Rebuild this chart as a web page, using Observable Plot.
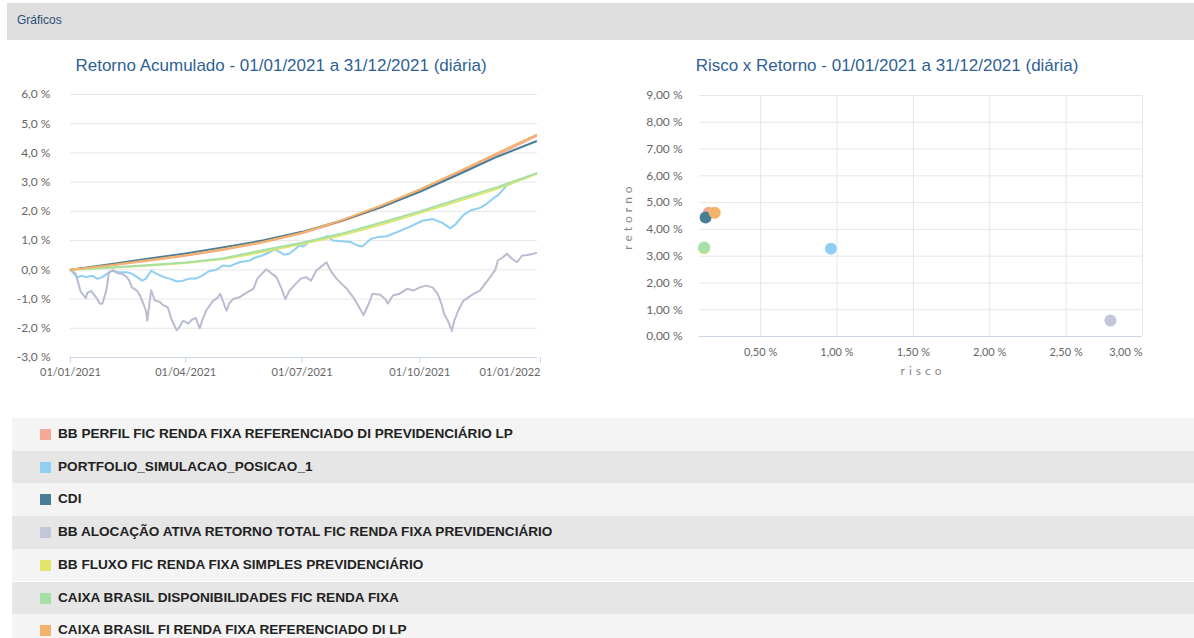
<!DOCTYPE html>
<html><head><meta charset="utf-8">
<script src="https://cdn.jsdelivr.net/npm/d3@7"></script>
<script src="https://cdn.jsdelivr.net/npm/@observablehq/plot@0.6"></script>
<style>
body{margin:0;background:#fff;overflow:hidden}
#root{position:relative;width:1194px;height:638px;font-family:"Liberation Sans",Arial,sans-serif;overflow:hidden}
.hdr{position:absolute;left:7px;top:3px;width:1187px;height:37px;background:#dedede}
.hdr span{position:absolute;left:10px;top:10px;font-size:12px;color:#2b4e77}
.title{position:absolute;top:56px;font-size:17px;color:#2f5f96;white-space:nowrap;transform:translateX(-50%)}
.plot{position:absolute}
.row{position:absolute;left:12px;width:1182px;height:32.7px}
.sw{position:absolute;left:28px;width:11px;height:11px;top:11px}
.lbl{position:absolute;left:46px;top:0;line-height:32.7px;font-size:13.6px;font-weight:bold;color:#222;white-space:nowrap}
</style></head><body><div id="root"></div><script>
// ---------- data ----------
const seriesNames = [
  "BB PERFIL FIC RENDA FIXA REFERENCIADO DI PREVIDENCIÁRIO LP",
  "PORTFOLIO_SIMULACAO_POSICAO_1",
  "CDI",
  "BB ALOCAÇÃO ATIVA RETORNO TOTAL FIC RENDA FIXA PREVIDENCIÁRIO",
  "BB FLUXO FIC RENDA FIXA SIMPLES PREVIDENCIÁRIO",
  "CAIXA BRASIL DISPONIBILIDADES FIC RENDA FIXA",
  "CAIXA BRASIL FI RENDA FIXA REFERENCIADO DI LP"
];
const seriesColors = ["#f5a895","#8fd0f2","#4a7d96","#c3c6d9","#dfe66b","#a6e0a6","#f4b36a"];
const lineColors   = ["#f5a895","#8fd0f2","#4a7d96","#b9bcd2","#dfe66b","#a6e0a6","#f4b36a"];

const monthDates = ["2021-01-01","2021-02-01","2021-03-01","2021-04-01","2021-05-01","2021-06-01","2021-07-01","2021-08-01","2021-09-01","2021-10-01","2021-11-01","2021-12-01","2021-12-31"];
const bbPerfil   = [0,0.15,0.30,0.48,0.69,0.94,1.25,1.66,2.14,2.70,3.33,3.95,4.58];
const cdi        = [0,0.19,0.37,0.56,0.77,1.01,1.30,1.69,2.15,2.67,3.28,3.88,4.40];
const bbFluxo    = [0,0.07,0.14,0.23,0.37,0.62,0.88,1.18,1.55,1.94,2.36,2.78,3.28];
const caixaDisp  = [0,0.08,0.16,0.25,0.40,0.68,0.93,1.24,1.62,2.00,2.43,2.84,3.30];
const caixaRefDI = [0,0.16,0.32,0.50,0.71,0.96,1.27,1.70,2.20,2.75,3.38,4.00,4.62];

const portfolioDates = ["2021-01-01","2021-01-05","2021-01-07","2021-01-10","2021-01-13","2021-01-18","2021-01-22","2021-01-26","2021-01-31","2021-02-03","2021-02-07","2021-02-14","2021-02-18","2021-02-22","2021-02-26","2021-03-01","2021-03-05","2021-03-09","2021-03-15","2021-03-20","2021-03-25","2021-03-30","2021-04-04","2021-04-09","2021-04-14","2021-04-19","2021-04-25","2021-04-30","2021-05-05","2021-05-13","2021-05-21","2021-05-26","2021-05-31","2021-06-03","2021-06-10","2021-06-17","2021-06-21","2021-06-26","2021-06-29","2021-07-02","2021-07-07","2021-07-12","2021-07-21","2021-07-25","2021-08-01","2021-08-08","2021-08-13","2021-08-17","2021-08-24","2021-08-29","2021-09-05","2021-09-12","2021-09-23","2021-10-03","2021-10-11","2021-10-19","2021-10-25","2021-10-29","2021-11-04","2021-11-10","2021-11-17","2021-11-22","2021-11-29","2021-12-01","2021-12-08","2021-12-15","2021-12-22","2021-12-28","2021-12-31"];
const portfolioValues = [0,-0.2,-0.25,-0.2,-0.25,-0.2,-0.31,-0.25,-0.08,-0.02,-0.08,-0.08,-0.13,-0.25,-0.37,-0.3,-0.03,-0.13,-0.25,-0.31,-0.4,-0.37,-0.3,-0.3,-0.2,-0.05,0.0,0.15,0.12,0.26,0.32,0.43,0.49,0.55,0.7,0.52,0.55,0.72,0.84,0.8,0.98,1.0,1.16,1.0,0.98,0.95,0.84,0.8,1.06,1.12,1.15,1.27,1.47,1.68,1.74,1.6,1.42,1.56,1.87,2.04,2.12,2.25,2.5,2.55,2.88,3.02,3.13,3.25,3.3];

const alocDates = ["2021-01-01","2021-01-05","2021-01-09","2021-01-13","2021-01-14","2021-01-17","2021-01-21","2021-01-24","2021-01-26","2021-01-29","2021-01-31","2021-02-03","2021-02-07","2021-02-11","2021-02-14","2021-02-16","2021-02-18","2021-02-22","2021-02-25","2021-03-01","2021-03-02","2021-03-05","2021-03-08","2021-03-12","2021-03-14","2021-03-18","2021-03-21","2021-03-25","2021-03-27","2021-03-30","2021-04-03","2021-04-06","2021-04-09","2021-04-12","2021-04-14","2021-04-17","2021-04-22","2021-04-26","2021-04-28","2021-05-03","2021-05-05","2021-05-08","2021-05-13","2021-05-18","2021-05-24","2021-05-27","2021-06-03","2021-06-07","2021-06-11","2021-06-15","2021-06-18","2021-06-21","2021-06-26","2021-06-30","2021-07-04","2021-07-08","2021-07-12","2021-07-17","2021-07-20","2021-07-24","2021-07-28","2021-08-01","2021-08-05","2021-08-10","2021-08-14","2021-08-18","2021-08-22","2021-08-25","2021-08-31","2021-09-04","2021-09-06","2021-09-10","2021-09-15","2021-09-21","2021-09-26","2021-10-01","2021-10-06","2021-10-11","2021-10-15","2021-10-18","2021-10-20","2021-10-23","2021-10-26","2021-10-28","2021-10-31","2021-11-04","2021-11-08","2021-11-12","2021-11-17","2021-11-21","2021-11-25","2021-11-29","2021-12-01","2021-12-05","2021-12-08","2021-12-12","2021-12-16","2021-12-20","2021-12-23","2021-12-29","2021-12-31"];
const alocValues = [0,-0.13,-0.75,-0.97,-0.8,-0.72,-0.94,-1.16,-1.15,-0.7,-0.1,-0.02,-0.12,-0.15,-0.25,-0.37,-0.6,-0.71,-0.94,-1.4,-1.74,-0.7,-1.05,-1.1,-1.2,-1.28,-1.7,-2.07,-1.97,-1.74,-1.84,-1.7,-1.65,-2.0,-1.72,-1.4,-1.08,-0.95,-0.82,-1.4,-1.15,-1.0,-0.94,-0.8,-0.65,-0.3,0.02,-0.12,-0.25,-0.65,-1.0,-0.72,-0.48,-0.3,-0.25,-0.37,-0.03,0.15,0.26,-0.08,-0.3,-0.48,-0.65,-0.94,-1.23,-1.55,-1.17,-0.82,-0.85,-1.0,-1.15,-0.88,-0.82,-0.65,-0.71,-0.6,-0.54,-0.6,-0.82,-1.17,-1.51,-1.74,-2.09,-1.74,-1.4,-1.06,-0.94,-0.82,-0.71,-0.48,-0.25,0,0.32,0.43,0.55,0.38,0.26,0.49,0.5,0.55,0.58];

// risk x return (in %)
const riskValues   = [0.16, 0.96, 0.14, 2.79, 0.13, 0.13, 0.20];
const returnValues = [4.62, 3.28, 4.44, 0.60, 3.30, 3.32, 4.62];

const retTicks = [-3,-2,-1,0,1,2,3,4,5,6];
const dateTickLabels = ["2021-01-01","2021-04-01","2021-07-01","2021-10-01","2022-01-01"];
const riskTicks = [0.5,1.0,1.5,2.0,2.5,3.0];
const scatterYTicks = [0,1,2,3,4,5,6,7,8,9];

// ---------- build ----------
const parse = d3.utcParse("%Y-%m-%d");
const lineData = [];
function addSeries(i, dates, values){ dates.forEach((d,k)=>lineData.push({series: seriesNames[i], date: parse(d), value: values[k]})); }
addSeries(0, monthDates, bbPerfil);
addSeries(1, portfolioDates, portfolioValues);
addSeries(2, monthDates, cdi);
addSeries(3, alocDates, alocValues);
addSeries(4, monthDates, bbFluxo);
addSeries(5, monthDates, caixaDisp);
addSeries(6, monthDates, caixaRefDI);

const scatterData = seriesNames.map((s,i)=>({series:s, risk: riskValues[i], ret: returnValues[i]}));

const root = document.getElementById("root");
root.insertAdjacentHTML("beforeend", `<div class="hdr"><span>Gráficos</span></div>
<div class="title" style="left:281px">Retorno Acumulado - 01/01/2021 a 31/12/2021 (diária)</div>
<div class="title" style="left:887px">Risco x Retorno - 01/01/2021 a 31/12/2021 (diária)</div>`);

const axisStyle = {fontFamily: "Lato, 'Open Sans', sans-serif", fontSize: "11px", color: "#666", background: "transparent", overflow: "visible"};
const xTicks = dateTickLabels.map(parse);
const fmtDate = d3.utcFormat("%d/%m/%Y");
const fmtPct1 = d => d.toFixed(1).replace(".", ",") + " %";
const fmtPct2 = d => d.toFixed(2).replace(".", ",") + " %";

const left = Plot.plot({
  width: 560, height: 307,
  marginLeft: 70, marginRight: 23, marginTop: 14, marginBottom: 30,
  style: axisStyle,
  color: {domain: seriesNames, range: lineColors},
  x: {type: "utc", domain: [parse("2021-01-01"), parse("2022-01-01")], label: null},
  y: {domain: [-3, 6], label: null},
  marks: [
    Plot.gridY(retTicks.filter(t => t > -3), {stroke: "#e6e6e6", strokeOpacity: 1}),
    Plot.ruleY([-3], {stroke: "#ccd6eb"}),
    Plot.axisY(retTicks, {tickSize: 0, tickPadding: 20, tickFormat: fmtPct1, fill: "#666", fontSize: 12, label: null}),
    Plot.axisX(xTicks.slice(0, -1), {tickSize: 6, tickPadding: 5, stroke: "#ccd6eb", fill: "#666", tickFormat: fmtDate, label: null}),
    Plot.axisX(xTicks.slice(-1), {tickSize: 6, tickPadding: 5, stroke: "#ccd6eb", fill: "#666", tickFormat: fmtDate, textAnchor: "end", dx: 3, label: null}),
    Plot.line(lineData, {x: "date", y: "value", z: "series", stroke: "series", strokeWidth: 2})
  ]
});
left.classList.add("plot");
left.style.left = "0px"; left.style.top = "80px";
root.appendChild(left);

const right = Plot.plot({
  width: 560, height: 306,
  marginLeft: 99, marginRight: 18, marginTop: 15, marginBottom: 50,
  style: axisStyle,
  color: {domain: seriesNames, range: seriesColors},
  x: {domain: [0.1, 3.0], label: null},
  y: {domain: [0, 9], label: null},
  marks: [
    Plot.gridX(riskTicks, {stroke: "#e6e6e6", strokeOpacity: 1}),
    Plot.gridY(scatterYTicks.filter(t => t > 0), {stroke: "#e6e6e6", strokeOpacity: 1}),
    Plot.ruleY([0], {stroke: "#ccd6eb"}),
    Plot.axisY(scatterYTicks, {tickSize: 0, tickPadding: 17, tickFormat: fmtPct2, fill: "#666", fontSize: 12, label: null}),
    Plot.axisX(riskTicks.slice(0, -1), {tickSize: 0, tickPadding: 12, tickFormat: fmtPct2, fill: "#666", label: null}),
    Plot.axisX(riskTicks.slice(-1), {tickSize: 0, tickPadding: 12, tickFormat: fmtPct2, fill: "#666", textAnchor: "end", label: null}),
    Plot.text(["risco"], {frameAnchor: "bottom", dy: 38, dx: 2, fill: "#888", fontSize: 12}),
    Plot.text(["retorno"], {frameAnchor: "left", textAnchor: "middle", dx: -71, rotate: -90, fill: "#888", fontSize: 12}),
    Plot.dot(scatterData, {x: "risk", y: "ret", fill: "series", r: 6})
  ]
});
right.classList.add("plot");
right.style.left = "600px"; right.style.top = "80px";
root.appendChild(right);
d3.select(right).selectAll("text").filter(function(){ const t = this.textContent; return t === "risco" || t === "retorno"; }).style("letter-spacing", "4px");

// legend
seriesNames.forEach((s, i) => {
  const row = document.createElement("div");
  row.className = "row";
  row.style.top = (418 + i * 32.7) + "px";
  row.style.background = i % 2 === 0 ? "#f4f4f4" : "#e6e6e6";
  row.innerHTML = `<div class="sw" style="background:${seriesColors[i]}"></div><div class="lbl">${s}</div>`;
  root.appendChild(row);
});
</script></body></html>
